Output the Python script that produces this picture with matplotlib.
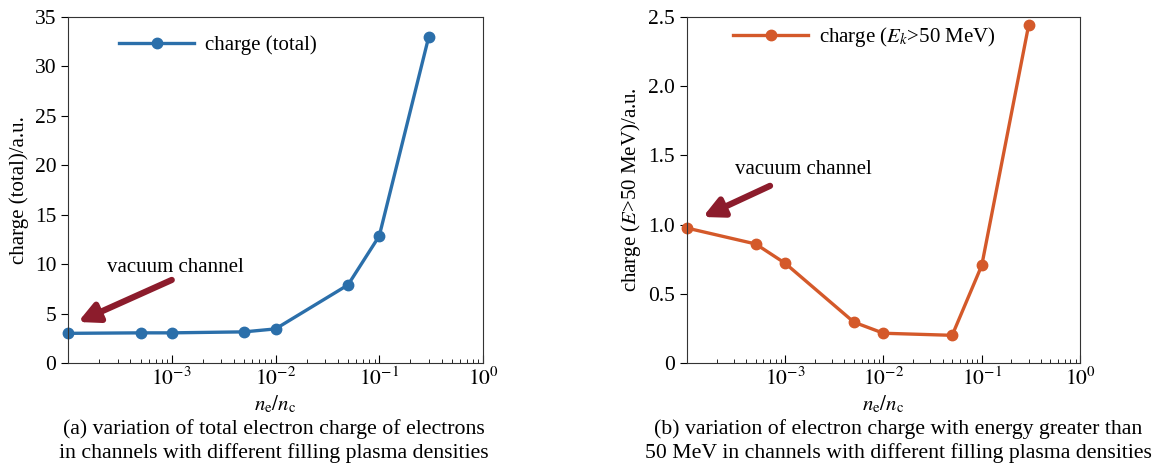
import numpy as np
import matplotlib
matplotlib.use('Agg')
import matplotlib.pyplot as plt

plt.rcParams['font.family'] = ['Liberation Serif', 'DejaVu Serif']
plt.rcParams['mathtext.fontset'] = 'stix'

# =====================================
# Data
# =====================================
density = [1e-4, 5e-4, 1e-3, 5e-3, 1e-2, 5e-2, 1e-1, 3e-1]
charge_total = [3.0, 3.05, 3.05, 3.15, 3.45, 7.9, 12.85, 33.0]
charge_50mev = [0.975, 0.86, 0.72, 0.295, 0.215, 0.20, 0.705, 2.44]

blue = '#2b6faa'
orange = '#d4592a'
arrow_red = '#8c1c2c'

fig = plt.figure(figsize=(11.53, 4.65), dpi=100)
ax1 = fig.add_axes([68/1153, 1 - 363/465, 415/1153, 346/465])
ax2 = fig.add_axes([687/1153, 1 - 363/465, 393/1153, 346/465])


def style(ax):
    ax.set_xscale('log')
    ax.set_xlim(1e-4, 1)
    ax.tick_params(axis='x', which='both', direction='in', labelsize=15.5)
    ax.tick_params(axis='x', which='major', length=6)
    ax.tick_params(axis='x', which='minor', length=3)
    ax.tick_params(axis='y', direction='out', length=5, labelsize=15.5)
    ax.set_xticks([1e-3, 1e-2, 1e-1, 1e0])
    ax.set_xticklabels([r'$10^{-3}$', r'$10^{-2}$', r'$10^{-1}$', r'$10^{0}$'])
    for s in ax.spines.values():
        s.set_color('#333333')
    ax.set_xlabel(r'$n_\mathrm{e}/n_\mathrm{c}$', fontsize=15, labelpad=2)


arrow_props = dict(arrowstyle='-|>,head_length=1.2,head_width=0.6',
                   color=arrow_red, lw=4.5, shrinkA=0, shrinkB=0)

# (a) total charge
ax1.plot(density, charge_total, 'o-', color=blue, lw=2.4, ms=7.5,
         label='charge (total)', clip_on=False)
style(ax1)
ax1.set_ylim(0, 35)
ax1.set_yticks([0, 5, 10, 15, 20, 25, 30, 35])
ax1.set_ylabel('charge (total)/a.u.', fontsize=15)
ax1.legend(loc='upper left', bbox_to_anchor=(0.078, 1.0), frameon=False,
           fontsize=15, handlelength=3.6, handletextpad=0.5)
ax1.annotate('', xy=(1.25e-4, 4.15), xytext=(1.0e-3, 8.4),
             arrowprops=arrow_props)
ax1.text(2.4e-4, 9.2, 'vacuum channel', fontsize=15)
fig.text(0.2377, 1 - 419/465,
         '(a) variation of total electron charge of electrons\n'
         'in channels with different filling plasma densities',
         ha='center', va='top', fontsize=15.7, linespacing=1.25)

# (b) charge with E > 50 MeV
ax2.plot(density, charge_50mev, 'o-', color=orange, lw=2.4, ms=7.5,
         label=r'charge ($E_k$>50 MeV)', clip_on=False)
style(ax2)
ax2.set_ylim(0, 2.5)
ax2.set_yticks([0, 0.5, 1.0, 1.5, 2.0, 2.5])
ax2.set_yticklabels(['0', '0.5', '1.0', '1.5', '2.0', '2.5'])
ax2.set_ylabel(r'charge ($E$>50 MeV)/a.u.', fontsize=15)
ax2.legend(loc='upper left', bbox_to_anchor=(0.07, 1.03), frameon=False,
           fontsize=15, handlelength=3.6, handletextpad=0.5)
ax2.annotate('', xy=(1.45e-4, 1.055), xytext=(7.0e-4, 1.28),
             arrowprops=arrow_props)
ax2.text(3.08e-4, 1.366, 'vacuum channel', fontsize=15)
fig.text(0.779, 1 - 419/465,
         '(b) variation of electron charge with energy greater than\n'
         '50 MeV in channels with different filling plasma densities',
         ha='center', va='top', fontsize=15.7, linespacing=1.25)

fig.savefig('out.png', dpi=100)
